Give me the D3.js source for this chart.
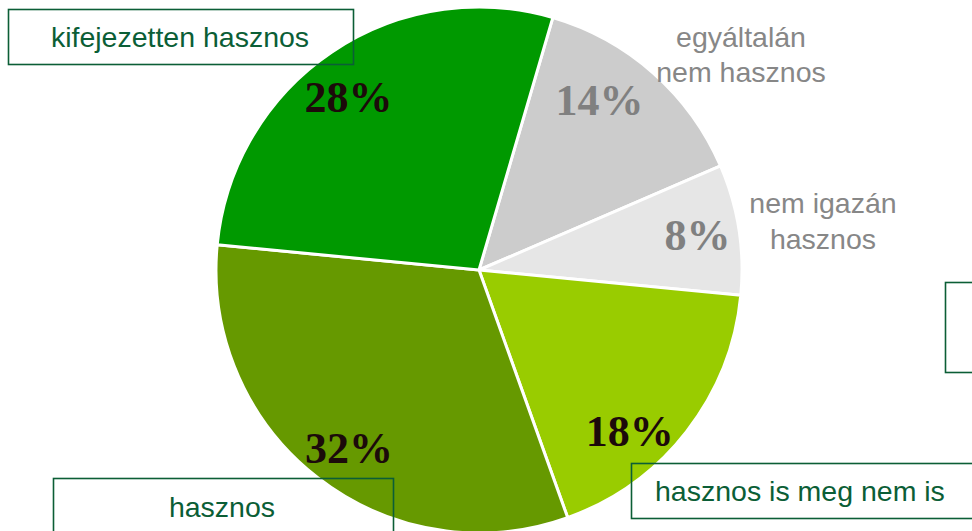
<!DOCTYPE html>
<html>
<head>
<meta charset="utf-8">
<script src="https://cdn.jsdelivr.net/npm/d3@7"></script>
<style>
  html, body { margin: 0; padding: 0; background: #fff; }
  svg { display: block; }
</style>
</head>
<body>
<div id="chart"></div>
<script>
// Slice data, clockwise from the top-right slice
var categories = ["egyáltalán nem hasznos", "nem igazán hasznos", "hasznos is meg nem is", "hasznos", "kifejezetten hasznos"];
var values = [14, 8, 18, 32, 28];
var percentLabels = ["14%", "8%", "18%", "32%", "28%"];
var sliceColors = ["#cccccc", "#e6e6e6", "#99cc00", "#669900", "#009900"];

(function () {
  var W = 972, H = 531;
  var cx = 479, cy = 270, radius = 263;
  var startDeg = 16.3;

  var svg = d3.select("#chart").append("svg")
    .attr("width", W)
    .attr("height", H);

  var pie = d3.pie()
    .sort(null)
    .value(function (d) { return d; })
    .startAngle(startDeg * Math.PI / 180)
    .endAngle(startDeg * Math.PI / 180 + 2 * Math.PI);

  var arc = d3.arc().innerRadius(0).outerRadius(radius);
  var labelArc = d3.arc().innerRadius(215).outerRadius(215);

  var arcs = pie(values);

  var g = svg.append("g")
    .attr("transform", "translate(" + cx + "," + cy + ")");

  g.selectAll("path")
    .data(arcs)
    .enter()
    .append("path")
    .attr("d", arc)
    .attr("fill", function (d, i) { return sliceColors[i]; })
    .attr("stroke", "#fff")
    .attr("stroke-width", 3)
    .attr("stroke-linejoin", "round");

  // small hand nudges so labels sit where the original put them
  var nudge = [[-22, -9], [6, -2], [-19, 29], [2, 8], [-10, 5]];
  var pctColor = ["#808080", "#808080", "#1c0a0a", "#1c0a0a", "#1c0a0a"];

  g.selectAll("text.pct")
    .data(arcs)
    .enter()
    .append("text")
    .attr("class", "pct")
    .attr("x", function (d, i) { return labelArc.centroid(d)[0] + nudge[i][0]; })
    .attr("y", function (d, i) { return labelArc.centroid(d)[1] + nudge[i][1]; })
    .attr("dy", "0.35em")
    .attr("text-anchor", "middle")
    .style("font-family", "'Liberation Serif', 'Times New Roman', serif")
    .style("font-weight", "bold")
    .style("font-size", "44px")
    .style("fill", function (d, i) { return pctColor[i]; })
    .text(function (d, i) { return percentLabels[i]; });

  // Category labels (boxed ones are dark green, loose ones grey)
  var boxColor = "#0b5e36";
  var labelFont = "'Liberation Sans', Arial, sans-serif";

  function box(x, y, w, h) {
    svg.append("rect")
      .attr("x", x).attr("y", y)
      .attr("width", w).attr("height", h)
      .attr("fill", "none")
      .attr("stroke", boxColor)
      .attr("stroke-width", 1.6);
  }

  function label(text, x, y, anchor, color) {
    svg.append("text")
      .attr("x", x).attr("y", y)
      .attr("text-anchor", anchor)
      .style("font-family", labelFont)
      .style("font-size", "28.5px")
      .style("fill", color)
      .text(text);
  }

  box(8.5, 9.5, 345, 55);
  label(categories[4], 180, 47, "middle", boxColor);

  box(53.5, 478.5, 340, 70);
  label(categories[3], 222, 517, "middle", boxColor);

  box(631.5, 463.5, 360, 55);
  label(categories[2], 655, 501, "start", boxColor);

  // empty box at right edge
  box(945.5, 282.5, 60, 90);

  var grey = "#878787";
  label("egyáltalán", 741, 47, "middle", grey);
  label("nem hasznos", 741, 82, "middle", grey);
  label("nem igazán", 823, 213, "middle", grey);
  label("hasznos", 823, 249, "middle", grey);
})();
</script>
</body>
</html>
